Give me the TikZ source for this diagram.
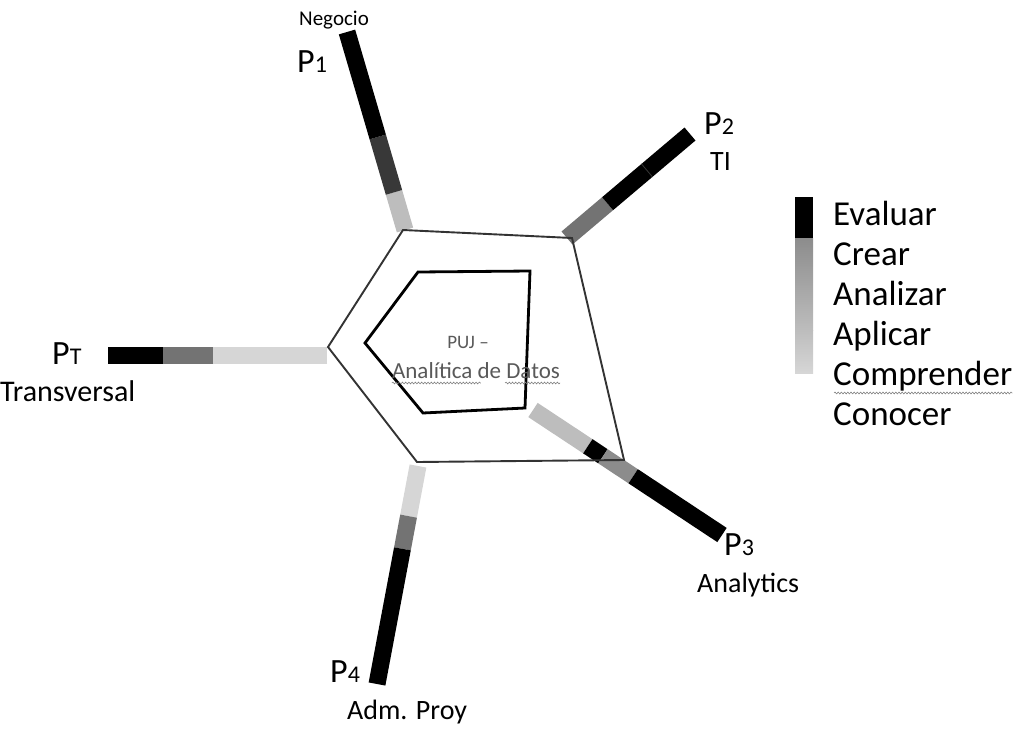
\documentclass[tikz,border=0pt]{standalone}
\usepackage{fontspec}
\setmainfont{Carlito}
\usetikzlibrary{calc,decorations.pathmorphing}

\definecolor{lvDark}{gray}{0.22}
\definecolor{lvMid}{gray}{0.45}
\definecolor{lvMidB}{gray}{0.55}
\definecolor{lvLight}{gray}{0.74}
\definecolor{lvPale}{gray}{0.84}
\definecolor{frame}{gray}{0.2}
\definecolor{centretext}{gray}{0.35}

% one coloured stretch of a bar, between fractions #3 and #4 of the way from #1 to #2
\newcommand{\barpart}[5]{\draw[barseg,#5] ($(#1)!#3!(#2)$) -- ($(#1)!#4!(#2)$);}

\begin{document}
\begin{tikzpicture}[x=1pt,y=-1pt,
  barseg/.style={line width=17pt,line cap=butt},
  outline/.style={draw=frame,line width=1.9pt,line join=miter},
  core/.style={draw=black,line width=2.8pt,line join=miter},
  ptag/.style={inner sep=0pt,anchor=base west},
  areatext/.style={inner sep=0pt,font=\fontsize{28}{28}\selectfont},
  legendtext/.style={inner sep=0pt,anchor=base west,font=\fontsize{35}{35}\selectfont},
  spell/.style={draw=gray,line width=0.6pt,decorate,decoration={snake,amplitude=0.9pt,segment length=3.2pt}}]
\useasboundingbox (0,0) rectangle (1032,728);

% bar end points (inner end first)
\coordinate (b1in) at (405,230);  \coordinate (b1out) at (347,32);
\coordinate (b2in) at (567,238);  \coordinate (b2out) at (690,134);
\coordinate (b3in) at (533,410);  \coordinate (b3out) at (722,535);
\coordinate (bTin) at (327,355);  \coordinate (bTout) at (108,355);
\coordinate (b4in) at (418,466);  \coordinate (b4out) at (377,684);

% P1 - Negocio
\barpart{b1in}{b1out}{0}{0.19}{lvLight}
\barpart{b1in}{b1out}{0.19}{0.47}{lvDark}
\barpart{b1in}{b1out}{0.47}{1}{black}
% P2 - TI
\barpart{b2in}{b2out}{0}{0.33}{lvMid}
\barpart{b2in}{b2out}{0.33}{1}{black}
\draw[lvDark,line width=0.8pt] ($(b2in)!0.65!(b2out)!8.5pt!90:(b2out)$) -- ($(b2in)!0.65!(b2out)!8.5pt!-90:(b2out)$);
% P3 - Analytics
\barpart{b3in}{b3out}{0}{0.29}{lvLight}
\barpart{b3in}{b3out}{0.29}{0.37}{black}
\barpart{b3in}{b3out}{0.37}{0.53}{lvMidB}
\barpart{b3in}{b3out}{0.53}{1}{black}
% PT - Transversal
\barpart{bTin}{bTout}{0}{0.52}{lvPale}
\barpart{bTin}{bTout}{0.52}{0.75}{lvMid}
\barpart{bTin}{bTout}{0.75}{1}{black}
% P4 - Adm. Proy
\barpart{b4in}{b4out}{0}{0.23}{lvPale}
\barpart{b4in}{b4out}{0.23}{0.38}{lvMid}
\barpart{b4in}{b4out}{0.38}{1}{black}

% outer and inner pentagons
\coordinate (o1) at (403,230); \coordinate (o2) at (572,238);
\coordinate (o3) at (624,460); \coordinate (o4) at (417,462);
\coordinate (o5) at (328,347);
\draw[outline] (o1) -- (o2) -- (o3) -- (o4) -- (o5) -- cycle;
\coordinate (i1) at (418,272); \coordinate (i2) at (530,271);
\coordinate (i3) at (525,408); \coordinate (i4) at (423,413);
\coordinate (i5) at (365,343);
\draw[core] (i1) -- (i2) -- (i3) -- (i4) -- (i5) -- cycle;

% centre title
\node[inner sep=0pt,anchor=base,text=centretext,font=\fontsize{19}{19}\selectfont] (puj) at (468,348) {PUJ –};
\node[inner sep=0pt,anchor=base,text=centretext,font=\fontsize{23}{23}\selectfont] (ad) at (476,378) {Analítica de Datos};
\draw[spell] ($(ad.base west)+(0,5)$) -- ($(ad.base west)+(89,5)$);
\draw[spell] ($(ad.base east)+(-55,5)$) -- ($(ad.base east)+(0,5)$);

% area tags
\node[ptag] (p1) at (297,72) {\fontsize{34}{34}\selectfont P\fontsize{24}{24}\selectfont 1};
\node[areatext,anchor=base east,font=\fontsize{21}{21}\selectfont] (n1) at (369,25) {Negocio};
\node[ptag] (p2) at (704,134) {\fontsize{34}{34}\selectfont P\fontsize{24}{24}\selectfont 2};
\node[areatext,anchor=base west] (n2) at (710,170) {TI};
\node[ptag] (pT) at (52,364) {\fontsize{34}{34}\selectfont P\fontsize{24}{24}\selectfont T};
\node[areatext,anchor=base west,font=\fontsize{30}{30}\selectfont] (nT) at (0,401) {Transversal};
\node[ptag] (p3) at (724,555) {\fontsize{34}{34}\selectfont P\fontsize{24}{24}\selectfont 3};
\node[areatext,anchor=base west] (n3) at (697,592) {Analytics};
\node[ptag] (p4) at (330,682) {\fontsize{34}{34}\selectfont P\fontsize{24}{24}\selectfont 4};
\node[areatext,anchor=base west] (n4) at (347,719) {Adm. Proy};

% level legend
\fill[black] (795,197) rectangle (813,238);
\shade[top color=gray!110!black,bottom color=lvLight] (795,238) rectangle (813,330);
\shade[top color=lvLight,bottom color=lvPale] (795,330) rectangle (813,373);
\node[legendtext] (l1) at (833,225) {Evaluar};
\node[legendtext] (l2) at (833,265) {Crear};
\node[legendtext] (l3) at (833,305) {Analizar};
\node[legendtext] (l4) at (833,345) {Aplicar};
\node[legendtext] (l5) at (833,385) {Comprender};
\node[legendtext] (l6) at (833,425) {Conocer};
\draw[spell] ($(l5.base west)+(1,8)$) -- ($(l5.base east)+(0,8)$);
\end{tikzpicture}
\end{document}
